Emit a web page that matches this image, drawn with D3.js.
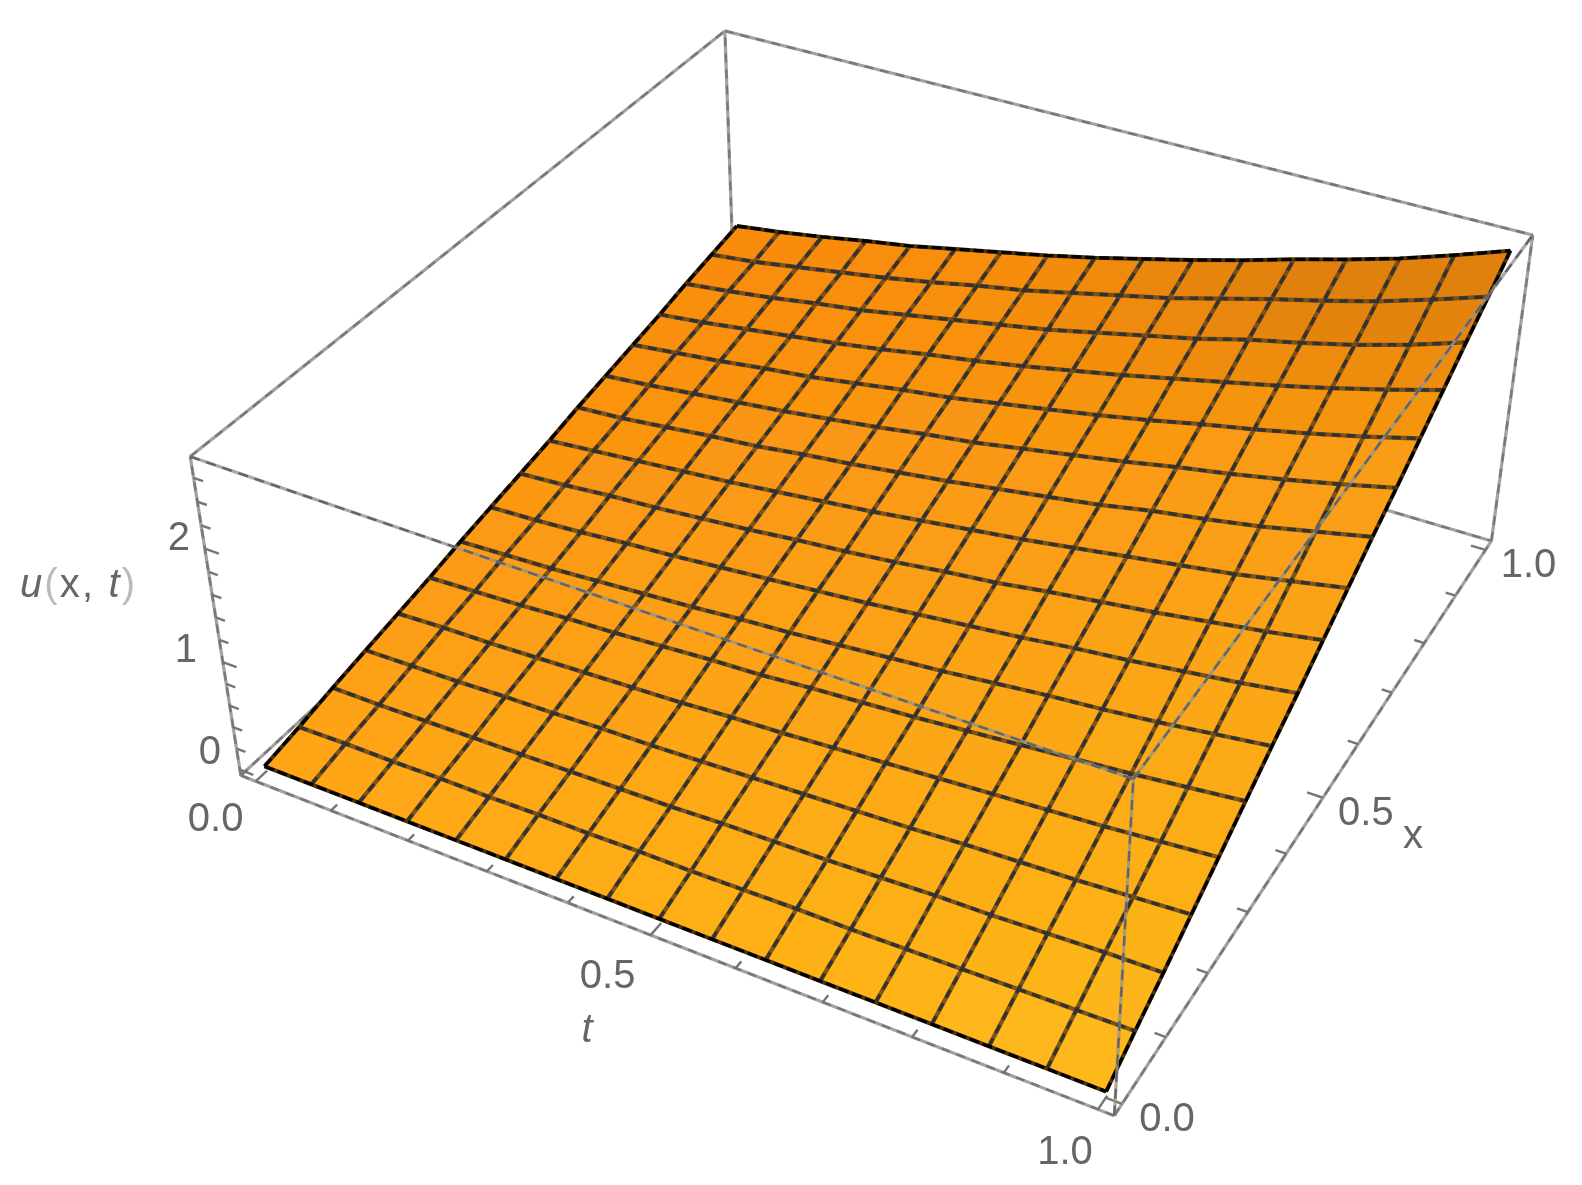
<!DOCTYPE html>
<html><head><meta charset="utf-8">
<script src="https://cdn.jsdelivr.net/npm/d3@7/dist/d3.min.js"></script>
<style>html,body{margin:0;background:#fff}svg{display:block}text{font-family:"Liberation Sans",sans-serif;fill:#666}</style>
</head><body><svg id="c" width="1582" height="1185"></svg>
<script>
const tMesh=d3.range(17).map(i=>i/16), xMesh=d3.range(17).map(i=>i/16);
// u(x,t) rows: x mesh, columns: t mesh
const u=[
[0,0,0,0,0,0,0,0,0,0,0,0,0,0,0,0,0],
[.06,.07,.07,.08,.08,.09,.09,.10,.10,.11,.12,.12,.13,.14,.15,.16,.17],
[.13,.13,.14,.15,.16,.17,.18,.19,.21,.22,.23,.25,.27,.28,.30,.32,.33],
[.19,.20,.21,.23,.24,.26,.27,.29,.31,.33,.35,.37,.40,.42,.44,.47,.50],
[.25,.27,.28,.30,.32,.34,.36,.39,.41,.44,.47,.50,.53,.56,.59,.63,.67],
[.31,.33,.35,.38,.40,.43,.46,.48,.52,.55,.58,.62,.66,.70,.74,.79,.84],
[.38,.40,.42,.45,.48,.51,.55,.58,.62,.66,.70,.75,.80,.84,.89,.95,1.01],
[.44,.46,.49,.53,.56,.60,.64,.68,.72,.77,.82,.87,.93,.98,1.04,1.10,1.17],
[.50,.53,.57,.60,.64,.68,.73,.77,.82,.88,.93,1.00,1.06,1.12,1.19,1.26,1.34],
[.56,.60,.64,.68,.72,.77,.82,.87,.93,.99,1.05,1.12,1.19,1.26,1.33,1.42,1.51],
[.63,.66,.71,.76,.80,.86,.91,.97,1.03,1.10,1.17,1.24,1.33,1.40,1.48,1.58,1.68],
[.69,.73,.78,.83,.88,.94,1.00,1.07,1.13,1.21,1.29,1.37,1.46,1.54,1.63,1.73,1.84],
[.75,.80,.85,.91,.96,1.03,1.10,1.16,1.24,1.32,1.40,1.49,1.59,1.68,1.78,1.89,2.01],
[.81,.86,.92,.98,1.04,1.11,1.19,1.26,1.34,1.43,1.52,1.62,1.72,1.82,1.93,2.05,2.18],
[.88,.93,.99,1.06,1.12,1.20,1.28,1.36,1.44,1.54,1.64,1.74,1.86,1.96,2.07,2.20,2.35],
[.94,.99,1.06,1.13,1.20,1.28,1.37,1.45,1.55,1.65,1.75,1.87,1.99,2.10,2.22,2.36,2.51],
[1.00,1.06,1.13,1.21,1.28,1.37,1.46,1.55,1.65,1.76,1.87,1.99,2.12,2.24,2.37,2.52,2.68]];
const tTicks=d3.range(11).map(i=>i/10), xTicks=d3.range(11).map(i=>i/10), zTicks=d3.range(14).map(i=>i/5);
const tLabels=[0,0.5,1], xLabels=[0,0.5,1], zLabels=[0,1,2];

// camera calibration: box corners (normalised) to page
const calib=[[0,0,0,239,773],[1,0,0,1113,1117],[1,1,0,1492,538],[0,1,0,737,322],[0,0,1,192,458],[1,0,1,1135,779],[1,1,1,1532,237],[0,1,1,723,28]];
function solveCamera(){
  const A=[],b=[];
  calib.forEach(([X,Y,Z,a,c])=>{A.push([X,Y,Z,1,0,0,0,0,-a*X,-a*Y,-a*Z]);b.push(a);A.push([0,0,0,0,X,Y,Z,1,-c*X,-c*Y,-c*Z]);b.push(c);});
  const n=11,M=d3.range(n).map(i=>d3.range(n+1).map(j=>d3.sum(A,(r,k)=>r[i]*(j<n?r[j]:b[k]))));
  for(let i=0;i<n;i++){let p=i;for(let r=i+1;r<n;r++)if(Math.abs(M[r][i])>Math.abs(M[p][i]))p=r;[M[i],M[p]]=[M[p],M[i]];
    for(let r=0;r<n;r++)if(r!==i){const f=M[r][i]/M[i][i];for(let c=i;c<=n;c++)M[r][c]-=f*M[i][c];}}
  return M.map((r,i)=>r[n]/r[i]);
}
const P=solveCamera();
const sT=d3.scaleLinear().domain([-0.02,1.017]).range([0,1]);
const sX=d3.scaleLinear().domain([-0.017,1.02]).range([0,1]);
const sZ=d3.scaleLinear().domain([-0.056,2.776]).range([0,1]);
function proj(t,x,z){const X=sT(t),Y=sX(x),Z=sZ(z),w=P[8]*X+P[9]*Y+P[10]*Z+1;
  return [(P[0]*X+P[1]*Y+P[2]*Z+P[3])/w,(P[4]*X+P[5]*Y+P[6]*Z+P[7])/w];}
const line=d3.line();
const svg=d3.select('#c');
svg.append('defs').append('filter').attr('id','soft').attr('x','-5%').attr('y','-5%').attr('width','110%').attr('height','110%')
  .append('feGaussianBlur').attr('stdDeviation',0.6);
const root=svg.append('g').attr('filter','url(#soft)');
const [t0,t1]=sT.domain(),[x0,x1]=sX.domain(),[z0,z1]=sZ.domain();
function drawn(g,paths,under,over,w,dash){
  g.selectAll('path.u').data(paths).join('path').attr('class','u').attr('d',line).attr('fill','none').attr('stroke',under).attr('stroke-width',w+.4).attr('stroke-linecap','butt');
  g.selectAll('path.o').data(paths).join('path').attr('class','o').attr('d',line).attr('fill','none').attr('stroke',over).attr('stroke-width',w-.4).attr('stroke-dasharray',dash);
}
const pe=list=>list.map(d=>d.map(p=>proj(...p)));
drawn(root.append('g'),pe([
 [[t0,x0,z1],[t0,x1,z1]],[[t0,x1,z1],[t1,x1,z1]],[[t0,x1,z0],[t0,x1,z1]],
 [[t0,x0,z0],[t0,x1,z0]],[[t0,x1,z0],[t1,x1,z0]],[[t0,x0,z0],[t0,x0,z1]],[[t1,x1,z0],[t1,x1,z1]],
 [[t0,x0,z0],[t1,x0,z0]],[[t1,x0,z0],[t1,x1,z0]]]),'#a2a2a2','#787878',2.8,'9 7');

// ticks
const mk=(v,labels)=>labels.some(l=>Math.abs(l-v)<1e-6);
const tickData=[
 ...tTicks.map(v=>[[v,x0,z0],[v,x0+(mk(v,tLabels)?.02:.011),z0]]),
 ...xTicks.map(v=>[[t1,v,z0],[t1-(mk(v,xLabels)?.018:.012),v,z0]]),
 ...zTicks.map(v=>[[t0,x0,v],[t0+(mk(v,zLabels)?.018:.012),x0,v]])];
root.append('g').attr('stroke','#757575').attr('stroke-width',2.4).selectAll('path').data(tickData).join('path').attr('d',d=>line(d.map(p=>proj(...p))));

// surface
const edgeX0=d3.scaleLinear().domain([0,1]).range(['#FFA613','#FEBB1C']);
const edgeX1=d3.scaleLinear().domain([0,1]).range(['#F98A10','#F9930F']);
const sm=(a,b,v)=>{const k=Math.max(0,Math.min(1,(v-a)/(b-a)));return k*k*(3-2*k);};
function cellColor(i,j){const a=(tMesh[j]+tMesh[j+1])/2,b=(xMesh[i]+xMesh[i+1])/2;
  const base=d3.interpolateRgb(edgeX0(a),edgeX1(a))(Math.pow(b,.85));
  return d3.interpolateRgb(base,'#DF7F0E')(sm(.7,1,b)*sm(.3,.85,a));}
const surf=root.append('g');
const cells=[];
for(let i=0;i<16;i++)for(let j=0;j<16;j++)cells.push({i,j});
surf.selectAll('path.c').data(cells).join('path').attr('class','c')
 .attr('d',({i,j})=>line([[j,i],[j+1,i],[j+1,i+1],[j,i+1]].map(([b,a])=>proj(tMesh[b],xMesh[a],u[a][b])))+'Z')
 .attr('fill',({i,j})=>cellColor(i,j)).attr('stroke',({i,j})=>cellColor(i,j)).attr('stroke-width',.8);
const meshLines=[];
for(let i=1;i<16;i++){meshLines.push(tMesh.map((t,j)=>proj(t,xMesh[i],u[i][j])));meshLines.push(xMesh.map((x,a)=>proj(tMesh[i],x,u[a][i])));}
drawn(surf.append('g'),meshLines,'rgba(112,74,20,.9)','#333335',3.9,'9 6');
const border=[tMesh.map((t,j)=>proj(t,0,u[0][j])),xMesh.map((x,a)=>proj(1,x,u[a][16])),tMesh.map((t,j)=>proj(t,1,u[16][j])),xMesh.map((x,a)=>proj(0,x,u[a][0]))];
drawn(surf.append('g'),border,'#4a3008','#000',3.6,'10 4');

// front box edges
drawn(root.append('g'),pe([[[t0,x0,z1],[t1,x0,z1]],[[t1,x0,z1],[t1,x1,z1]],[[t1,x0,z0],[t1,x0,z1]]]),'rgba(155,148,130,.8)','rgba(88,95,108,.9)',2.8,'10 7');

// labels
const labelsG=root.append('g');
const tOff=[[-40,35],[-43,38],[-33,40]],xOff=[[45,13],[43,13],[43,13]],zOff=[[-30,-20],[-37,-15],[-26,-13]];
const num=d3.format('.1f');
const lab=[
 ...tLabels.map((v,i)=>({s:num(v),p:proj(v,x0,z0),o:tOff[i]})),
 ...xLabels.map((v,i)=>({s:num(v),p:proj(t1,v,z0),o:xOff[i]})),
 ...zLabels.map((v,i)=>({s:String(v),p:proj(t0,x0,v),o:zOff[i]}))];
labelsG.selectAll('text.n').data(lab).join('text').attr('class','n').attr('x',d=>d.p[0]+d.o[0]).attr('y',d=>d.p[1]+d.o[1]+14.5)
 .attr('text-anchor','middle').attr('font-size',40).text(d=>d.s);
labelsG.append('text').attr('x',587).attr('y',1042).attr('text-anchor','middle').attr('font-size',40).attr('font-style','italic').text('t');
labelsG.append('text').attr('x',1413).attr('y',848).attr('text-anchor','middle').attr('font-size',40).text('x');
const ul=labelsG.append('text').attr('x',20).attr('y',597).attr('font-size',40).attr('textLength',115);
ul.append('tspan').attr('font-style','italic').text('u');
ul.append('tspan').style('fill','#bbb').text('(');
ul.append('tspan').text('x, ');
ul.append('tspan').attr('font-style','italic').text('t');
ul.append('tspan').style('fill','#bbb').text(')');
</script></body></html>
